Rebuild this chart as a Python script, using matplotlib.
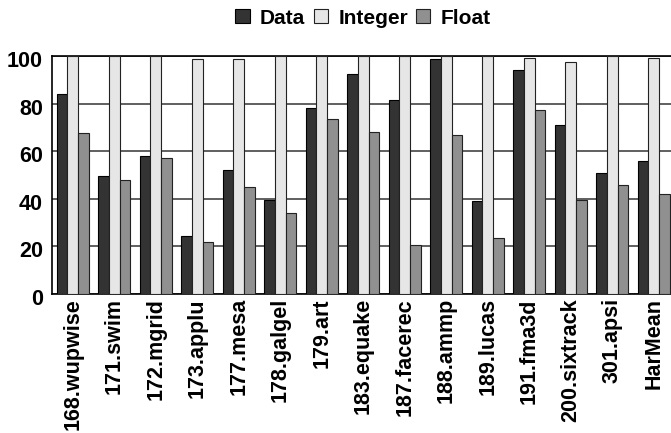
import numpy as np
import matplotlib
matplotlib.use('Agg')
import matplotlib.pyplot as plt
import matplotlib.transforms as mtransforms

plt.rcParams['font.family'] = ['Liberation Sans', 'DejaVu Sans']
plt.rcParams['font.weight'] = 'bold'

benchmarks = ['168.wupwise', '171.swim', '172.mgrid', '173.applu', '177.mesa',
              '178.galgel', '179.art', '183.equake', '187.facerec', '188.ammp',
              '189.lucas', '191.fma3d', '200.sixtrack', '301.apsi', 'HarMean']
data_vals = [84, 49.5, 58, 24.5, 52, 39.7, 78, 92.3, 81.6, 98.6, 39, 94.2, 71, 51, 56]
int_vals = [100, 100, 100, 98.6, 98.6, 100, 100, 100, 100, 100, 100, 99, 97.5, 100, 99]
float_vals = [67.7, 48, 57.2, 22, 45, 34, 73.6, 68.1, 20.4, 67, 23.7, 77.1, 39.3, 46, 42]

x = np.arange(len(benchmarks))
width = 0.255

fig = plt.figure(figsize=(6.71, 4.33), dpi=100)
ax = fig.add_axes([0.0775, 0.321, 0.9277, 0.5497])

ax.bar(x - width, data_vals, width, color='#333333', edgecolor='black', linewidth=0.8, label='Data', zorder=3)
ax.bar(x, int_vals, width, color='#e6e6e6', edgecolor='#222222', linewidth=0.8, label='Integer', zorder=3)
ax.bar(x + width, float_vals, width, color='#909090', edgecolor='#222222', linewidth=0.8, label='Float', zorder=3)

ax.set_xlim(-0.5, len(benchmarks) - 0.5)
ax.set_ylim(0, 100)
ax.set_yticks([0, 20, 40, 60, 80, 100])
ax.set_yticklabels(['0', '20', '40', '60', '80', '100'], fontsize=15.5, fontweight='bold')
ax.set_xticks(x)
ax.set_xticklabels(benchmarks, rotation=90, fontsize=15.5, fontweight='bold')
ax.tick_params(length=0)
ax.tick_params(axis='y', pad=6.5)
ax.tick_params(axis='x', pad=3)
# y labels sit a little below their lines in the original
shift = mtransforms.ScaledTranslation(0, -3 / 100, fig.dpi_scale_trans)
for lab in ax.get_yticklabels():
    lab.set_transform(lab.get_transform() + shift)

ax.grid(axis='y', color='#444444', linewidth=1.2, zorder=0)
for s in ['top', 'left', 'bottom']:
    ax.spines[s].set_color('black')
    ax.spines[s].set_linewidth(1.2)
ax.spines['right'].set_visible(False)

ax.legend(loc='center', bbox_to_anchor=(0.5, 1.0), bbox_transform=mtransforms.blended_transform_factory(ax.transAxes, fig.transFigure),
          ncol=3, frameon=False, borderaxespad=0, borderpad=0,
          prop={'weight': 'bold', 'size': 15}, handlelength=0.68, handleheight=0.68,
          handletextpad=0.5, columnspacing=0.4)
leg = ax.get_legend()
leg.set_bbox_to_anchor((0.5, 1 - 18 / 433), transform=mtransforms.blended_transform_factory(ax.transAxes, fig.transFigure))

plt.savefig('out.png', dpi=100)
